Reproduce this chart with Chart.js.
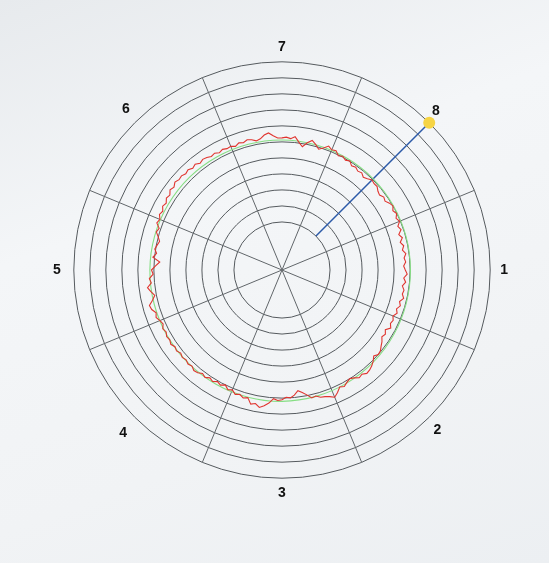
<!DOCTYPE html>
<html>
<head>
<meta charset="utf-8">
<title>Polar trace</title>
<script src="https://cdn.jsdelivr.net/npm/chart.js@4.4.1/dist/chart.umd.min.js"></script>
<style>
    html, body { margin: 0; padding: 0; }
    body {
        width: 549px;
        height: 563px;
        overflow: hidden;
        background: linear-gradient(160deg, #e7eaed 0%, #f4f6f8 35%, #f1f3f5 70%, #eceff2 100%);
    }
    canvas { display: block; }
</style>
</head>
<body>
<canvas id="polarChart" width="549" height="563"></canvas>
<script>
// Direction labels, clockwise starting from the top
const directions = ["7", "8", "1", "2", "3", "4", "5", "6"];
const stepsPerDirection = 24; // one sample every 1.875 deg

// Radial scale (one unit per ring), inner rings 1 and 2 are not drawn
const ringMax = 13;
const firstRing = 3;

// Measured trace (red), one value per 1.875 deg, starting at "7"
const measured = [
    8.25, 8.30, 8.22, 8.36, 8.05, 7.80, 8.10, 8.31, 8.12, 7.88, 8.05, 8.27, 8.12, 8.18, 7.95, 8.05, 7.92, 8.02, 7.82, 7.90, 7.78, 7.85, 7.70, 7.80,
    7.95, 7.88, 7.90, 7.75, 7.68, 7.82, 7.74, 7.90, 8.00, 7.85, 7.98, 7.82, 7.95, 7.73, 7.85, 7.62, 7.78, 7.58, 7.75, 7.62, 7.80, 7.66, 7.74, 7.60,
    7.70, 7.82, 7.62, 7.76, 7.58, 7.72, 7.66, 7.80, 7.60, 7.72, 7.55, 7.68, 7.50, 7.62, 7.55, 7.70, 7.45, 7.60, 7.50, 7.68, 7.80, 7.95, 8.00, 7.85,
    8.05, 8.20, 8.30, 8.35, 8.20, 8.28, 8.10, 8.00, 8.10, 8.25, 8.15, 8.40, 8.60, 8.45, 8.35, 8.30, 8.15, 8.20, 7.95, 7.75, 7.60, 7.85, 8.00, 7.95,
    8.10, 8.15, 8.05, 8.35, 8.55, 8.70, 8.50, 8.60, 8.25, 8.35, 8.20, 8.30, 8.10, 8.20, 8.00, 8.15, 8.05, 8.20, 8.10, 8.25, 8.15, 8.30, 8.35, 8.22,
    8.30, 8.20, 8.28, 8.18, 8.30, 8.22, 8.35, 8.25, 8.32, 8.20, 8.30, 8.15, 8.25, 8.40, 8.30, 8.50, 8.57, 8.30, 8.10, 8.30, 8.47, 8.20, 8.30, 8.05,
    8.15, 7.90, 7.65, 8.10, 7.90, 8.05, 7.95, 7.85, 8.00, 8.20, 8.10, 8.35, 8.25, 8.40, 8.30, 8.45, 8.35, 8.50, 8.42, 8.60, 8.50, 8.65, 8.55, 8.60,
    8.50, 8.58, 8.45, 8.55, 8.40, 8.50, 8.45, 8.35, 8.42, 8.30, 8.40, 8.32, 8.36, 8.25, 8.38, 8.30, 8.42, 8.35, 8.22, 8.30, 8.50, 8.60, 8.40, 8.25
];

// Reference circle (green), one value every 15 deg
const reference = [
    8.12, 8.10, 8.07, 8.05, 8.03, 8.02, 8.02, 8.03, 8.06, 8.10, 8.14, 8.17,
    8.20, 8.22, 8.24, 8.25, 8.26, 8.26, 8.25, 8.23, 8.20, 8.18, 8.15, 8.13
];
const referenceEvery = 8;

// Pointer (blue line with yellow tip) towards direction "8"
const pointerDirection = "8";
const pointerRange = [3, 13];

document.addEventListener("DOMContentLoaded", () => {
    const ctx = document.getElementById("polarChart").getContext("2d");

    // One category per sample, only the 8 directions get a text
    const angleLabels = [];
    for (let i = 0; i < directions.length * stepsPerDirection; i++) {
        angleLabels.push(i % stepsPerDirection === 0 ? directions[i / stepsPerDirection] : "");
    }

    const referenceData = angleLabels.map((_, i) => i % referenceEvery === 0 ? reference[i / referenceEvery] : null);
    const pointerIndex = directions.indexOf(pointerDirection) * stepsPerDirection;
    const pointerData = angleLabels.map((_, i) => i === pointerIndex ? pointerRange[1] : null);

    // label spacing from the outer ring, per direction
    const labelPadding = { "7": 6, "8": 4, "1": 10, "2": 6, "3": 7, "4": 11, "5": 13, "6": 7 };

    // Blue pointer line, placed with the radial scale
    const pointerLine = {
        id: "pointerLine",
        beforeDatasetsDraw(chart) {
            const r = chart.scales.r;
            const from = r.getPointPositionForValue(pointerIndex, pointerRange[0]);
            const to = r.getPointPositionForValue(pointerIndex, pointerRange[1]);
            const c = chart.ctx;
            c.save();
            c.strokeStyle = "#2c5aa8";
            c.lineWidth = 1.5;
            c.beginPath();
            c.moveTo(from.x, from.y);
            c.lineTo(to.x, to.y);
            c.stroke();
            c.restore();
        }
    };

    new Chart(ctx, {
        type: "radar",
        data: {
            labels: angleLabels,
            datasets: [
                {
                    label: "tip",
                    data: pointerData,
                    showLine: false,
                    pointRadius: 6,
                    pointBackgroundColor: "#f6d444",
                    pointBorderWidth: 0,
                    order: 0
                },
                {
                    label: "measured",
                    data: measured,
                    borderColor: "#e0352f",
                    borderWidth: 1.1,
                    pointRadius: 0,
                    fill: false,
                    tension: 0,
                    order: 1
                },
                {
                    label: "reference",
                    data: referenceData,
                    borderColor: "#86de84",
                    borderWidth: 1.1,
                    pointRadius: 0,
                    fill: false,
                    spanGaps: true,
                    tension: 0.34,
                    order: 2
                }
            ]
        },
        options: {
            responsive: false,
            animation: false,
            layout: { padding: { left: 49, right: 36, top: 39, bottom: 60 } },
            plugins: {
                legend: { display: false },
                tooltip: { enabled: false }
            },
            scales: {
                r: {
                    min: 0,
                    max: ringMax,
                    ticks: { stepSize: 1, display: false },
                    grid: {
                        circular: true,
                        color: "#555a5e",
                        lineWidth: (c) => (c.tick && c.tick.value < firstRing ? 0 : 1)
                    },
                    angleLines: {
                        color: "#61666a",
                        lineWidth: (c) => (c.index % stepsPerDirection === stepsPerDirection / 2 ? 1 : 0)
                    },
                    pointLabels: {
                        color: "#111",
                        font: { family: "'Liberation Sans', Arial, sans-serif", size: 14, weight: "bold" },
                        padding: (c) => labelPadding[c.label] ?? 5
                    }
                }
            }
        },
        plugins: [pointerLine]
    });
});
</script>
</body>
</html>
